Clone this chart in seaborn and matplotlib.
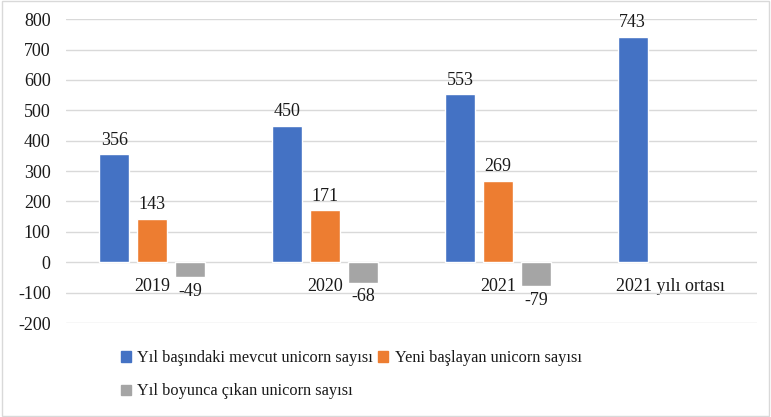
import matplotlib
matplotlib.use("Agg")
import matplotlib.pyplot as plt
from matplotlib.patches import Patch
import pandas as pd
import seaborn as sns

# ── data ──────────────────────────────────────────────────────────────────────
categories = ["2019", "2020", "2021", "2021 yılı ortası"]
series_names = [
    "Yıl başındaki mevcut unicorn sayısı",
    "Yeni başlayan unicorn sayısı",
    "Yıl boyunca çıkan unicorn sayısı",
]
existing = [356, 450, 553, 743]
new_started = [143, 171, 269]
exited = [-49, -68, -79]
colors = ["#4472C4", "#ED7D31", "#A5A5A5"]

rows = []
for vals, name in zip([existing, new_started, exited], series_names):
    for cat, v in zip(categories, vals):
        rows.append({"Kategori": cat, "Seri": name, "Değer": v})
df = pd.DataFrame(rows)

# ── style ─────────────────────────────────────────────────────────────────────
sns.set_theme(style="white")
plt.rcParams["font.family"] = ["Liberation Serif", "DejaVu Serif"]
plt.rcParams["axes.unicode_minus"] = False
FS = 13
TXT = "#1a1a1a"

fig = plt.figure(figsize=(7.71, 4.17), dpi=100)
ax = fig.add_axes([0.0856, 0.2254, 0.8964, 0.7286])

sns.barplot(
    data=df, x="Kategori", y="Değer", hue="Seri",
    order=categories, hue_order=series_names, palette=colors,
    width=0.66, gap=0.21, saturation=1, ax=ax, legend=False,
    err_kws={"linewidth": 0},
)

for cont in ax.containers:
    ax.bar_label(cont, fmt="%g", padding=4, fontsize=FS, color=TXT)

ax.set_ylim(-200, 800)
ax.set_xlim(-0.5, 3.5)
ax.set_yticks(range(-200, 801, 100))
ax.yaxis.grid(True, color="#d9d9d9", linewidth=1)
ax.set_axisbelow(True)
for s in ["top", "right", "left"]:
    ax.spines[s].set_visible(False)
ax.spines["bottom"].set_position(("data", 0))
ax.spines["bottom"].set_visible(False)
ax.tick_params(axis="x", length=0, pad=11, labelsize=FS, colors=TXT)
ax.tick_params(axis="y", length=0, pad=11, labelsize=FS, colors=TXT)
ax.set_xlabel("")
ax.set_ylabel("")

# legend: first row two items, second row one item
handles = [Patch(color=c) for c in colors]
order = [0, 2, 1]
fig.legend(
    [handles[i] for i in order], [series_names[i] for i in order],
    ncol=2, loc="upper left", bbox_to_anchor=(0.157, 0.16),
    frameon=False, fontsize=11.8, handlelength=0.6, handleheight=0.6,
    handletextpad=0.4, columnspacing=0.3, labelspacing=1.05,
    borderpad=0, borderaxespad=0, labelcolor=TXT,
)

fig.patches.append(plt.Rectangle((0.003, 0.003), 0.994, 0.994, transform=fig.transFigure,
                                 fill=False, edgecolor="#d9d9d9", linewidth=1))

fig.savefig("out.png", dpi=100)
